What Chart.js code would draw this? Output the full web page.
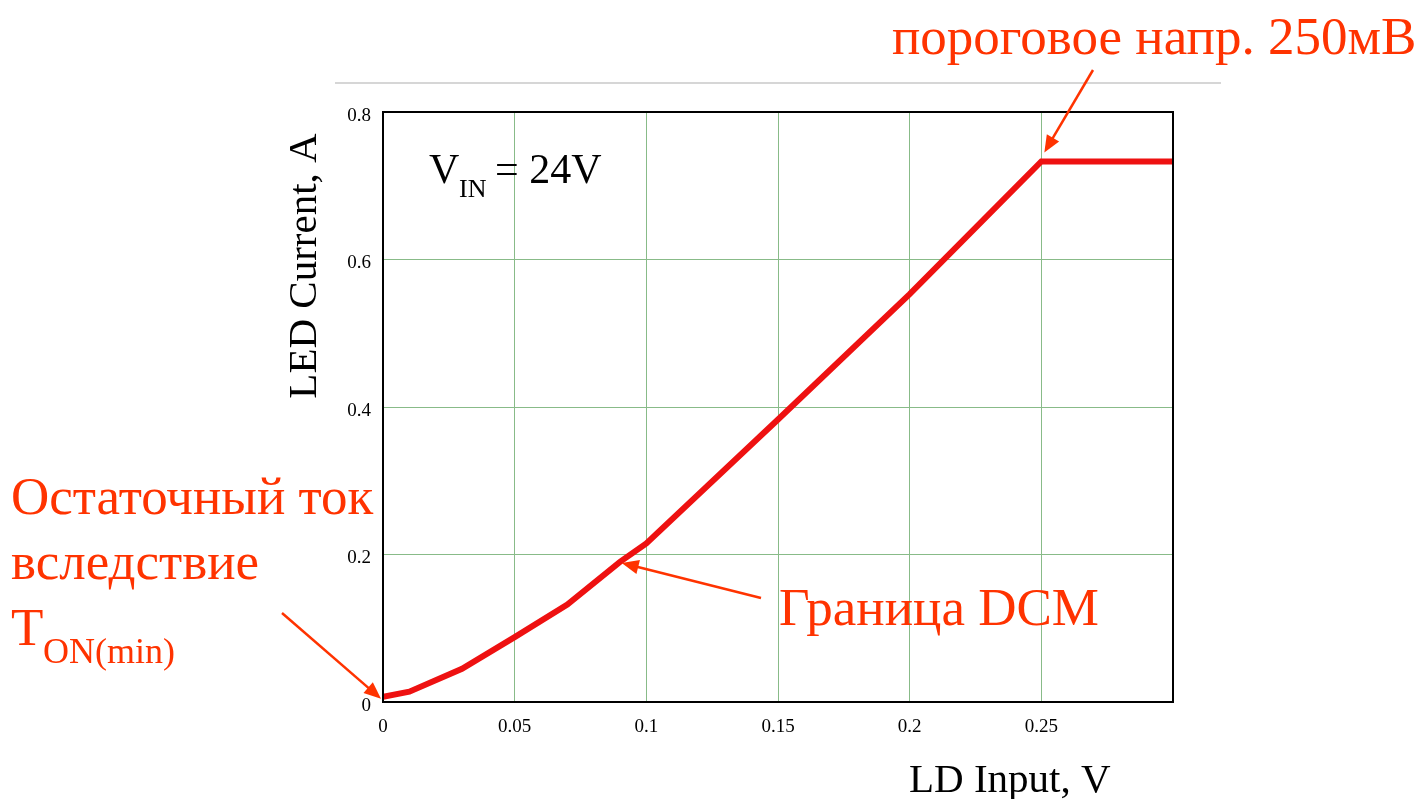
<!DOCTYPE html>
<html>
<head>
<meta charset="utf-8">
<script src="https://cdn.jsdelivr.net/npm/chart.js@4.4.0/dist/chart.umd.min.js"></script>
<style>
html,body{margin:0;padding:0;background:#fff;}
#wrap{position:relative;width:1424px;height:799px;}
</style>
</head>
<body>
<div id="wrap"><canvas id="c" width="1424" height="799"></canvas></div>
<script>
const ldInput = [0, 0.01, 0.03, 0.05, 0.07, 0.09, 0.1, 0.15, 0.2, 0.25, 0.3];
const ledCurrent = [0.007, 0.014, 0.045, 0.088, 0.132, 0.19, 0.215, 0.383, 0.553, 0.733, 0.733];
const xTickValues = [0, 0.05, 0.1, 0.15, 0.2, 0.25];
const yTickValues = [0, 0.2, 0.4, 0.6, 0.8];
const xTitle = 'LD Input, V';
const yTitle = 'LED Current, A';
const noteThreshold = 'пороговое напр. 250мВ';
const noteDCM = 'Граница DCM';
const noteResidual = ['Остаточный ток', 'вследствие'];

const SERIF = '"Liberation Serif", "DejaVu Serif", serif';
const ORANGE = '#ff3300';

function arrow(ctx, x1, y1, x2, y2, head) {
  const a = Math.atan2(y2 - y1, x2 - x1);
  ctx.save();
  ctx.strokeStyle = ORANGE; ctx.fillStyle = ORANGE; ctx.lineWidth = 2.5;
  ctx.beginPath();
  ctx.moveTo(x1, y1);
  ctx.lineTo(x2 - Math.cos(a) * head * 0.8, y2 - Math.sin(a) * head * 0.8);
  ctx.stroke();
  ctx.beginPath();
  ctx.moveTo(x2, y2);
  ctx.lineTo(x2 - head * Math.cos(a) + head * 0.42 * Math.sin(a), y2 - head * Math.sin(a) - head * 0.42 * Math.cos(a));
  ctx.lineTo(x2 - head * Math.cos(a) - head * 0.42 * Math.sin(a), y2 - head * Math.sin(a) + head * 0.42 * Math.cos(a));
  ctx.closePath();
  ctx.fill();
  ctx.restore();
}

const decor = {
  id: 'decor',
  beforeDraw(chart) {
    const ctx = chart.ctx;
    ctx.save();
    ctx.strokeStyle = '#c8c8c8'; ctx.lineWidth = 1.5;
    ctx.beginPath(); ctx.moveTo(335, 83); ctx.lineTo(1221, 83); ctx.stroke();
    ctx.restore();
  },
  afterDatasetsDraw(chart) {
    const ctx = chart.ctx;
    const xs = chart.scales.x, ys = chart.scales.y;
    const a = chart.chartArea;
    ctx.save();
    ctx.strokeStyle = '#000'; ctx.lineWidth = 2;
    ctx.strokeRect(a.left, a.top, a.right - a.left, a.bottom - a.top);

    // y tick labels (drawn at the scale's pixel positions)
    ctx.fillStyle = '#000';
    ctx.font = '19px ' + SERIF;
    ctx.textAlign = 'right';
    ctx.textBaseline = 'middle';
    yTickValues.forEach(v => ctx.fillText(String(v), a.left - 12, ys.getPixelForValue(v) + 4));

    // axis titles
    ctx.font = '41px ' + SERIF;
    ctx.textBaseline = 'alphabetic';
    ctx.textAlign = 'left';
    ctx.fillText(xTitle, 909, 792);
    ctx.save();
    ctx.translate(316, 266);
    ctx.rotate(-Math.PI / 2);
    ctx.textAlign = 'center';
    ctx.fillText(yTitle, 0, 0);
    ctx.restore();

    // V_IN = 24V
    ctx.font = '42px ' + SERIF;
    ctx.textAlign = 'left';
    ctx.fillText('V', 429, 183);
    ctx.font = '26px ' + SERIF;
    ctx.fillText('IN', 459, 197);
    ctx.font = '42px ' + SERIF;
    ctx.fillText('= 24V', 495, 183);

    // annotations
    ctx.fillStyle = ORANGE;
    ctx.font = '53px ' + SERIF;
    ctx.fillText(noteThreshold, 892, 54);
    ctx.fillText(noteDCM, 779, 625);
    ctx.fillText(noteResidual[0], 11, 514);
    ctx.fillText(noteResidual[1], 11, 579);
    ctx.fillText('T', 11, 645);
    ctx.font = '36px ' + SERIF;
    ctx.fillText('ON(min)', 43, 663);

    // arrows pointing at data locations
    arrow(ctx, 1093, 70, xs.getPixelForValue(0.25) + 3, ys.getPixelForValue(0.733) - 9, 17);
    arrow(ctx, 761, 598, xs.getPixelForValue(0.0895) + 3, ys.getPixelForValue(0.19) + 1, 17);
    arrow(ctx, 282, 613, xs.getPixelForValue(0) - 2, ys.getPixelForValue(0.007) + 2, 17);
    ctx.restore();
  }
};

new Chart(document.getElementById('c'), {
  type: 'line',
  data: {
    datasets: [{
      data: ldInput.map((x, i) => ({ x: x, y: ledCurrent[i] })),
      borderColor: '#ee1111',
      borderWidth: 6,
      pointRadius: 0,
      tension: 0,
      fill: false
    }]
  },
  options: {
    responsive: false,
    animation: false,
    layout: { padding: { left: 0, top: 112, right: 251, bottom: 0 } },
    plugins: { legend: { display: false }, tooltip: { enabled: false } },
    scales: {
      x: {
        type: 'linear', min: 0, max: 0.3,
        afterFit(s) { s.height = 97; },
        afterBuildTicks(s) { s.ticks = xTickValues.concat([0.3]).map(v => ({ value: v })); },
        ticks: {
          color: '#000', font: { family: SERIF, size: 19 }, padding: 14,
          maxRotation: 0, autoSkip: false,
          callback: v => (v === 0.3 ? '' : String(v))
        },
        grid: { color: '#88bb88', lineWidth: 1, drawTicks: false },
        border: { display: false }
      },
      y: {
        type: 'linear', min: 0, max: 0.8,
        afterFit(s) { s.width = 383; },
        afterBuildTicks(s) { s.ticks = yTickValues.map(v => ({ value: v })); },
        ticks: { display: false },
        grid: { color: '#88bb88', lineWidth: 1, drawTicks: false },
        border: { display: false }
      }
    }
  },
  plugins: [decor]
});
</script>
</body>
</html>
